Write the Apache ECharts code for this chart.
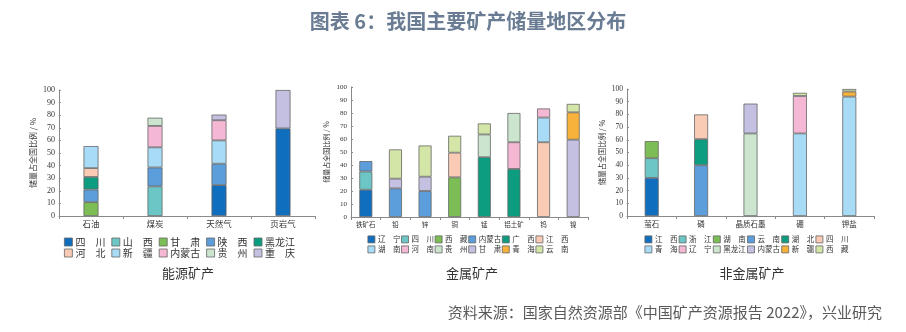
<!DOCTYPE html>
<html><head><meta charset="utf-8">
<script src="https://cdn.jsdelivr.net/npm/echarts@6/dist/echarts.min.js"></script>
<style>html,body{margin:0;padding:0;background:#fff}#c{width:906px;height:332px}</style>
</head><body><div id="c"></div>
<script>
// ---- Data ----
const energyCats = ['石油', '煤炭', '天然气', '页岩气'];
const energyRegions = ['四川', '山西', '甘肃', '陕西', '黑龙江', '河北', '新疆', '内蒙古', '贵州', '重庆'];
const energyValues = [
  [null, null, 24.5, 69.5],   // 四川
  [null, 23.5, null, null],   // 山西
  [11, null, null, null],     // 甘肃
  [10, 15, 17, null],         // 陕西
  [10, null, null, null],     // 黑龙江
  [7, null, null, null],      // 河北
  [17.5, 16, 18.5, null],     // 新疆
  [null, 17, 16, null],       // 内蒙古
  [null, 6.5, null, null],    // 贵州
  [null, null, 4.5, 30.5]     // 重庆
];

const metalCats = ['铁矿石', '铅', '锌', '铜', '锰', '铝土矿', '钨', '镍'];
const metalRegions = ['辽宁', '四川', '西藏', '内蒙古', '广西', '江西', '湖南', '河南', '贵州', '甘肃', '青海', '云南'];
const metalValues = [
  [21, null, null, null, null, null, null, null],     // 辽宁
  [14, null, null, null, null, null, null, null],     // 四川
  [null, null, null, 30.5, null, null, null, null],   // 西藏
  [8, 22, 20, null, null, null, null, null],          // 内蒙古
  [null, null, null, null, 46, 37, null, null],       // 广西
  [null, null, null, 19, null, null, 57.5, null],     // 江西
  [null, null, null, null, null, null, 19, null],     // 湖南
  [null, null, null, null, null, 20.5, 7, null],      // 河南
  [null, null, null, null, 17.5, 22.5, null, null],   // 贵州
  [null, 7.5, 11, null, null, null, null, 59.5],      // 甘肃
  [null, null, null, null, null, null, null, 21],     // 青海
  [null, 22.5, 24, 13, 8.5, null, null, 6.5]          // 云南
];

const nonMetalCats = ['萤石', '磷', '晶质石墨', '硼', '钾盐'];
const nonMetalRegions = ['江西', '浙江', '湖南', '云南', '湖北', '四川', '青海', '辽宁', '黑龙江', '内蒙古', '新疆', '西藏'];
const nonMetalValues = [
  [30, null, null, null, null],     // 江西
  [15.5, null, null, null, null],   // 浙江
  [13.5, null, null, null, null],   // 湖南
  [null, 40, null, null, null],     // 云南
  [null, 20.5, null, null, null],   // 湖北
  [null, 19.5, null, null, null],   // 四川
  [null, null, null, 65, 94],       // 青海
  [null, null, null, 29.5, null],   // 辽宁
  [null, null, 65, null, null],     // 黑龙江
  [null, null, 23.5, null, null],   // 内蒙古
  [null, null, null, null, 4],      // 新疆
  [null, null, null, 2.5, 2]        // 西藏
];

const yTicks = [0, 10, 20, 30, 40, 50, 60, 70, 80, 90, 100];

// ---- Style ----
const palette = ['#0F6EBE', '#6DC6C6', '#7CBE55', '#5B9EDB', '#0C9D80', '#F9CAB4',
                 '#A8DBF6', '#F4B7D4', '#CBE5CE', '#C4C0E1', '#F6B23A', '#D4E6A7'];
const axisColor = '#8a8a8a';
const textColor = '#333';

const panels = [
  { key: 'E', cats: energyCats, regions: energyRegions, values: energyValues,
    grid: { left: 59, top: 90, width: 256, height: 126 }, barWidth: 15,
    yFont: 8, xFont: 8.5, nameFont: 8, nameGap: 22,
    legend: { left: 64, rows: [241, 252], perRow: 5, itemW: 8, font: 10, textW: 30, gap: 6 },
    sub: { text: '能源矿产', x: 188, y: 273 } },
  { key: 'M', cats: metalCats, regions: metalRegions, values: metalValues,
    grid: { left: 351, top: 87, width: 237, height: 130 }, barWidth: 13,
    yFont: 7, xFont: 6.5, nameFont: 7, nameGap: 21,
    legend: { left: 367.5, rows: [239, 249], perRow: 6, itemW: 7, font: 7.5, textW: 22.5, gap: 0.7 },
    sub: { text: '金属矿产', x: 472, y: 273 } },
  { key: 'N', cats: nonMetalCats, regions: nonMetalRegions, values: nonMetalValues,
    grid: { left: 627, top: 89, width: 247, height: 127 }, barWidth: 14,
    yFont: 7.5, xFont: 7.5, nameFont: 7.5, nameGap: 21,
    legend: { left: 644.5, rows: [239, 249], perRow: 6, itemW: 7, font: 7.5, textW: 22.5, gap: 1.3 },
    sub: { text: '非金属矿产', x: 752, y: 273 } }
];

const grids = [], xAxes = [], yAxes = [], series = [], legends = [], graphics = [];

function fmtName(name) {
  const n = name.split('|')[1];
  return n.length === 2 ? n[0] + '\u3000' + n[1] : n;
}

panels.forEach((p, gi) => {
  grids.push(Object.assign({ containLabel: false }, p.grid));
  xAxes.push({
    type: 'category', gridIndex: gi, data: p.cats,
    axisLine: { lineStyle: { color: axisColor, width: 1 } },
    axisTick: { show: true, length: 3, lineStyle: { color: axisColor } },
    axisLabel: { color: textColor, fontSize: p.xFont, fontFamily: 'Noto Sans CJK SC', margin: 4 }
  });
  yAxes.push({
    type: 'value', gridIndex: gi, min: 0, max: 100, interval: 10,
    name: '储量占全国比例 / %', nameLocation: 'middle', nameGap: p.nameGap,
    nameTextStyle: { color: textColor, fontSize: p.nameFont, fontFamily: 'Noto Sans CJK SC' },
    axisLine: { show: true, lineStyle: { color: axisColor, width: 1 } },
    axisTick: { show: true, inside: true, length: 2, lineStyle: { color: axisColor } },
    splitLine: { show: false },
    axisLabel: { color: textColor, fontSize: p.yFont, fontFamily: 'Liberation Serif', margin: 4,
                 formatter: v => yTicks.includes(v) ? String(v) : '' }
  });
  const names = [];
  p.regions.forEach((r, ri) => {
    const nm = p.key + '|' + r;
    names.push(nm);
    series.push({
      type: 'bar', name: nm, stack: p.key, xAxisIndex: gi, yAxisIndex: gi,
      data: p.values[ri], barWidth: p.barWidth,
      itemStyle: { color: palette[ri], borderColor: '#666', borderWidth: 0.8 },
      emphasis: { disabled: true }, animation: false
    });
  });
  const L = p.legend;
  for (let row = 0; row < 2; row++) {
    legends.push({
      data: names.slice(row * L.perRow, (row + 1) * L.perRow),
      left: L.left, top: L.rows[row] - L.itemW / 2, padding: 0,
      orient: 'horizontal', itemWidth: L.itemW, itemHeight: L.itemW, itemGap: L.gap,
      icon: 'rect', selectedMode: false,
      itemStyle: { borderColor: '#666', borderWidth: 0.8 },
      formatter: fmtName,
      textStyle: { color: textColor, fontSize: L.font, width: L.textW, overflow: 'none',
                   fontFamily: 'Noto Sans CJK SC', padding: [0, 0, 0, -2], lineHeight: L.itemW }
    });
  }
  graphics.push({
    type: 'text', silent: true, x: p.sub.x, y: p.sub.y,
    style: { text: p.sub.text, fill: textColor, font: '13px "Noto Sans CJK SC"',
             align: 'center', verticalAlign: 'middle' }
  });
});

graphics.push({
  type: 'text', silent: true, x: 468, y: 21,
  style: { text: '图表 6：我国主要矿产储量地区分布', fill: '#6A7C93',
           font: 'bold 20px "Noto Sans CJK SC"', align: 'center', verticalAlign: 'middle' }
});
graphics.push({
  type: 'text', silent: true, x: 882, y: 312,
  style: { text: '资料来源：国家自然资源部《中国矿产资源报告 2022》，兴业研究', fill: '#595959',
           font: '15px "Noto Sans CJK SC"', align: 'right', verticalAlign: 'middle' }
});

const chart = echarts.init(document.getElementById('c'), null, { renderer: 'canvas' });
chart.setOption({
  animation: false,
  backgroundColor: '#fff',
  grid: grids, xAxis: xAxes, yAxis: yAxes, series: series,
  legend: legends, graphic: graphics
});
</script></body></html>
